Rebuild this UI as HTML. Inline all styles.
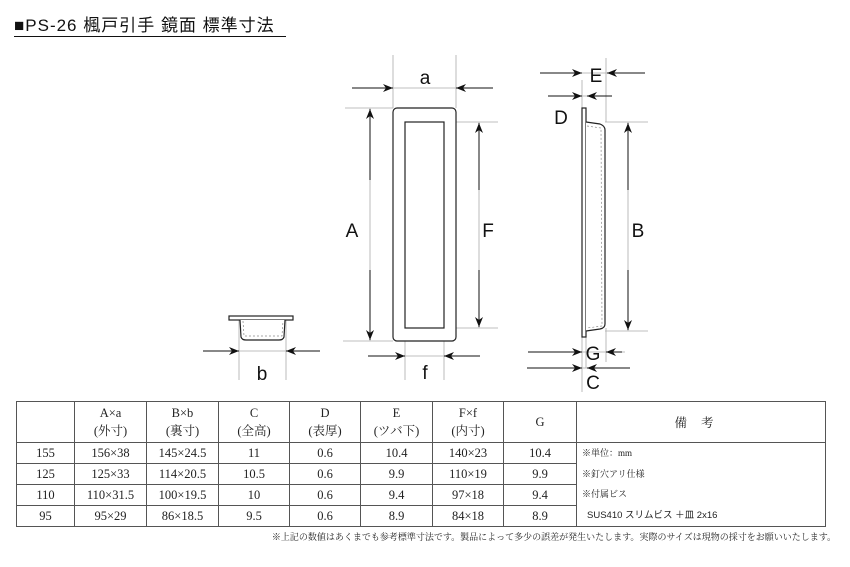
<!DOCTYPE html>
<html><head><meta charset="utf-8"><style>
body{margin:0;width:850px;height:567px;background:#fff;overflow:hidden;position:relative;font-family:"Liberation Serif","Noto Serif CJK SC",serif}
.t{position:absolute;left:14px;top:16px;width:272px;font:17px "Liberation Sans","Noto Sans CJK JP",sans-serif;color:#111;border-bottom:1.5px solid #111;line-height:20px;letter-spacing:1px;white-space:nowrap}
table{position:absolute;left:16px;top:401px;border-collapse:collapse;font-size:12.5px;color:#222;table-layout:fixed}
td{border:1px solid #555;text-align:center;padding:0;height:20px}
.n{position:absolute;right:14px;top:530px;font:9px "Liberation Serif","Noto Serif CJK JP",serif;color:#222;white-space:nowrap}
</style></head><body>
<div class="t">■PS-26 楓戸引手 鏡面 標準寸法</div>
<svg width="850" height="400" style="position:absolute;left:0;top:0" font-family="Liberation Sans,sans-serif">
<defs><marker id="m" viewBox="0 0 10 8" refX="10" refY="4" markerWidth="10" markerHeight="8" orient="auto" markerUnits="userSpaceOnUse"><path d="M0,0 L10,4 L0,8 L3,4z" fill="#111"/></marker></defs>
<g stroke="#aaa" stroke-width="0.8" fill="none">
<line x1="393" y1="55" x2="393" y2="108"/><line x1="456" y1="55" x2="456" y2="108"/>
<line x1="345" y1="108" x2="393" y2="108"/><line x1="343" y1="341" x2="393" y2="341"/>
<line x1="444" y1="122" x2="498" y2="122"/><line x1="444" y1="328" x2="498" y2="328"/>
<line x1="405" y1="328" x2="405" y2="380"/><line x1="444" y1="328" x2="444" y2="380"/>
<line x1="352" y1="88" x2="493" y2="88"/><line x1="370" y1="108" x2="370" y2="341"/><line x1="479" y1="122" x2="479" y2="328"/>
<line x1="368" y1="356" x2="480" y2="356"/>
<line x1="582" y1="80" x2="582" y2="392"/><line x1="606" y1="58" x2="606" y2="122"/><line x1="606" y1="328" x2="606" y2="362"/>
<line x1="540" y1="73" x2="645" y2="73"/><line x1="548" y1="96" x2="610" y2="96"/>
<line x1="605" y1="122" x2="648" y2="122"/><line x1="605" y1="331" x2="648" y2="331"/><line x1="628" y1="122" x2="628" y2="331"/>
<line x1="528" y1="352" x2="625" y2="352"/><line x1="527" y1="368" x2="630" y2="368"/><line x1="586" y1="336" x2="586" y2="368"/>
<line x1="203" y1="351" x2="320" y2="351"/><line x1="239" y1="320" x2="239" y2="380"/><line x1="286" y1="320" x2="286" y2="380"/>
</g>
<g stroke="#111" stroke-width="1" fill="none" marker-end="url(#m)">
<line x1="352" y1="88" x2="393" y2="88"/><line x1="493" y1="88" x2="456" y2="88"/>
<line x1="370" y1="180" x2="370" y2="109"/><line x1="370" y1="270" x2="370" y2="340"/>
<line x1="479" y1="190" x2="479" y2="123"/><line x1="479" y1="270" x2="479" y2="327"/>
<line x1="368" y1="356" x2="405" y2="356"/><line x1="480" y1="356" x2="444" y2="356"/>
<line x1="540" y1="73" x2="582" y2="73"/><line x1="645" y1="73" x2="607" y2="73"/>
<line x1="548" y1="96" x2="582" y2="96"/><line x1="612" y1="96" x2="587" y2="96"/>
<line x1="628" y1="190" x2="628" y2="123"/><line x1="628" y1="270" x2="628" y2="330"/>
<line x1="528" y1="352" x2="582" y2="352"/><line x1="622" y1="352" x2="606" y2="352"/>
<line x1="527" y1="368" x2="582" y2="368"/><line x1="630" y1="368" x2="587" y2="368"/>
<line x1="203" y1="351" x2="239" y2="351"/><line x1="320" y1="351" x2="286" y2="351"/>
</g>
<g stroke="#222" stroke-width="1.2" fill="#fff">
<rect x="393" y="108" width="63" height="233" rx="4"/>
<rect x="405" y="122" width="39" height="206" rx="0"/>
<rect x="582" y="108" width="4" height="229"/>
<path d="M586,122 L600,124 Q605,126 605,130 L605,324 Q605,328 600,329 L586,331"/>
<rect x="229" y="316" width="64" height="4"/>
<path d="M240,320 L241,337 Q242,340 246,340 L279,340 Q283,340 284,337 L285,320"/>
</g>
<g stroke="#888" stroke-width="0.7" stroke-dasharray="2,2" fill="none">
<path d="M587,126 L601,128 L602,326 L587,328"/>
<path d="M243,321 L244,336 L282,336 L283,321"/>
</g>
<g font-size="19" fill="#111" text-anchor="middle">
<text x="425" y="84">a</text><text x="352" y="237">A</text><text x="488" y="237">F</text><text x="425" y="379">f</text>
<text x="596" y="82">E</text><text x="561" y="124">D</text><text x="638" y="237">B</text>
<text x="593" y="360">G</text><text x="593" y="389">C</text><text x="262" y="380">b</text>
</g>
</svg>
<table>
<tr style="height:41px"><td style="width:57px"></td><td style="width:71px">A×a<br>(外寸)</td><td style="width:71px">B×b<br>(裏寸)</td><td style="width:70px">C<br>(全高)</td><td style="width:70px">D<br>(表厚)</td><td style="width:71px">E<br>(ツバ下)</td><td style="width:70px">F×f<br>(内寸)</td><td style="width:72px">G</td><td style="width:248px;letter-spacing:14px">備考</td></tr>
<tr><td>155</td><td>156×38</td><td>145×24.5</td><td>11</td><td>0.6</td><td>10.4</td><td>140×23</td><td>10.4</td><td rowspan="4" style="text-align:left;font-size:9px;line-height:20.5px;vertical-align:top;padding-left:5px">※単位：mm<br>※釘穴アリ仕様<br>※付属ビス<br><span style="font-family:'Liberation Sans','Noto Sans CJK JP',sans-serif;padding-left:5px;font-size:9.5px">SUS410 スリムビス ＋皿 2x16</span></td></tr>
<tr><td>125</td><td>125×33</td><td>114×20.5</td><td>10.5</td><td>0.6</td><td>9.9</td><td>110×19</td><td>9.9</td></tr>
<tr><td>110</td><td>110×31.5</td><td>100×19.5</td><td>10</td><td>0.6</td><td>9.4</td><td>97×18</td><td>9.4</td></tr>
<tr><td>95</td><td>95×29</td><td>86×18.5</td><td>9.5</td><td>0.6</td><td>8.9</td><td>84×18</td><td>8.9</td></tr>
</table>
<div class="n">※上記の数値はあくまでも参考標準寸法です。製品によって多少の誤差が発生いたします。実際のサイズは現物の採寸をお願いいたします。</div>
</body></html>
